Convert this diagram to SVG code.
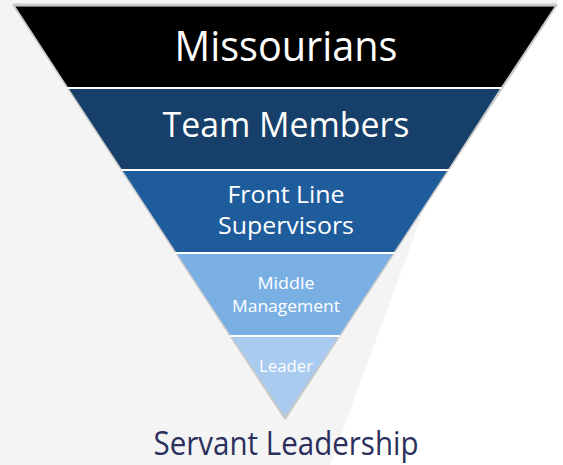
<svg xmlns="http://www.w3.org/2000/svg" width="563" height="465" viewBox="0 0 563 465">
<style>
.lbl{font-family:"Open Sans","Noto Sans","Liberation Sans",sans-serif;text-anchor:middle;fill:#ffffff}
.band{stroke:none}
.sep{stroke:#ffffff;stroke-width:2}
</style>
<rect x="0" y="0" width="563" height="465" fill="#ffffff"/>
<polygon points="0,0 558,0 557,5 426,204 330,465 0,465" fill="#f4f4f4"/>
<polygon points="14,5 556,5 285,418" fill="#ffffff" stroke="#c9c9c9" stroke-width="3" stroke-linejoin="round"/>
<g id="missourians">
<polygon class="band" points="15.5,6.5 554.5,6.5 500.5,88 68.5,88" fill="#000000"/>
<text class="lbl" x="286" y="61" font-size="42" textLength="223" lengthAdjust="spacingAndGlyphs">Missourians</text>
</g>
<g id="team-members">
<polygon class="band" points="68.5,88 500.5,88 447.7,170 122.3,170" fill="#163f6a"/>
<text class="lbl" x="286" y="137" font-size="34" textLength="247" lengthAdjust="spacingAndGlyphs">Team Members</text>
</g>
<g id="front-line">
<polygon class="band" points="122.3,170 447.7,170 393.3,253 176.7,253" fill="#1f5c9b"/>
<text class="lbl" x="286" y="203" font-size="23" textLength="117" lengthAdjust="spacingAndGlyphs">Front Line</text>
<text class="lbl" x="286" y="234" font-size="23" textLength="136" lengthAdjust="spacingAndGlyphs">Supervisors</text>
</g>
<g id="middle-management">
<polygon class="band" points="176.7,253 393.3,253 338.8,336 231.2,336" fill="#7aafe4"/>
<text class="lbl" x="286" y="289" font-size="17" textLength="57" lengthAdjust="spacingAndGlyphs" fill="#eef4fb">Middle</text>
<text class="lbl" x="286" y="312" font-size="17" textLength="108" lengthAdjust="spacingAndGlyphs" fill="#eef4fb">Management</text>
</g>
<g id="leader">
<polygon class="band" points="231.2,336 338.8,336 285,416.5" fill="#a9cbef"/>
<text class="lbl" x="286" y="372" font-size="16" textLength="54" lengthAdjust="spacingAndGlyphs" fill="#eef4fb">Leader</text>
</g>
<g id="connectors">
<line class="sep" x1="67" y1="88" x2="502" y2="88"/>
<line class="sep" x1="121" y1="170" x2="449" y2="170"/>
<line class="sep" x1="175" y1="253" x2="395" y2="253"/>
<line class="sep" x1="230" y1="336" x2="340" y2="336"/>
</g>
<g id="title">
<text x="286" y="455" font-family="Open Sans,Noto Sans,Liberation Sans,sans-serif" font-size="32" text-anchor="middle" fill="#2b2f5c" textLength="265" lengthAdjust="spacingAndGlyphs">Servant Leadership</text>
</g>
</svg>
